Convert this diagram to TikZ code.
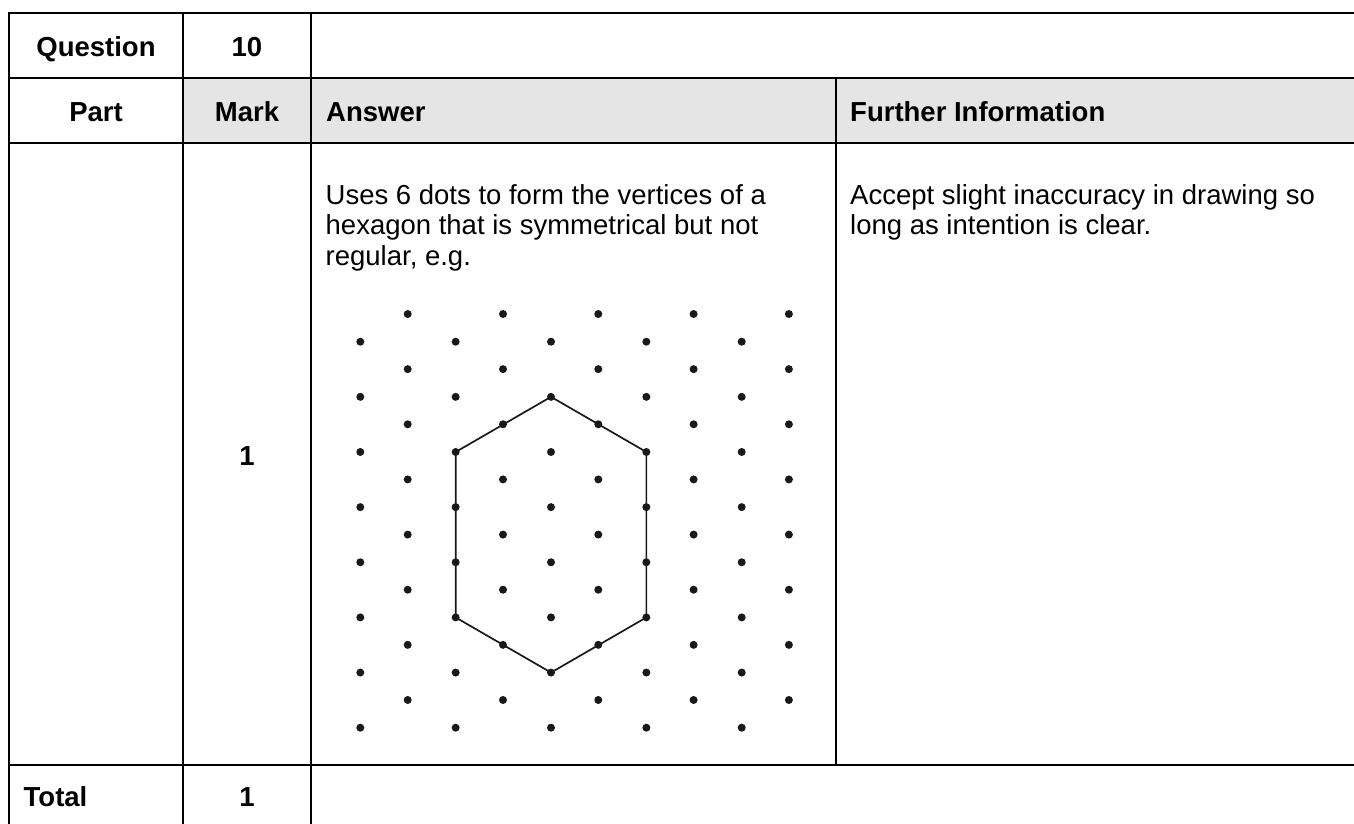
\documentclass[tikz,border=0pt]{standalone}
\usepackage{fontspec}
\setmainfont{Liberation Sans}
\begin{document}
\begin{tikzpicture}[x=1pt,y=-1pt,
  rule/.style={line width=2.2pt, black},
  head/.style={font=\fontsize{27.5}{31}\selectfont\bfseries, inner sep=0pt},
  body/.style={font=\fontsize{27.5}{31}\selectfont, inner sep=0pt},
  hexline/.style={line width=1.7pt, line join=round, black!90}]
\useasboundingbox (0,0) rectangle (1354,823);
\clip (0,0) rectangle (1354,823);
% header shading
\fill[black!10] (183,78) rectangle (1370,143);
% table rules
\draw[rule] (9,13) -- (1370,13);
\draw[rule] (9,78) -- (1370,78);
\draw[rule] (9,143) -- (1370,143);
\draw[rule] (9,765) -- (1370,765);
\draw[rule] (9,12) -- (9,840);
\draw[rule] (183,12) -- (183,840);
\draw[rule] (311,12) -- (311,840);
\draw[rule] (836,78) -- (836,765);
% texts
\node[head, anchor=base] (q) at (96,56) {Question};
\node[head, anchor=base] (qn) at (247,56) {10};
\node[head, anchor=base] (part) at (96,121.7) {Part};
\node[head, anchor=base] (mark) at (247,121.7) {Mark};
\node[head, anchor=base west] (ans) at (326,121.7) {Answer};
\node[head, anchor=base west] (fi) at (850,121.7) {Further Information};
\node[head, anchor=base] (m1) at (247,465) {1};
\node[head, anchor=base west] (tot) at (23.5,806.5) {Total};
\node[head, anchor=base] (tm) at (247,806.5) {1};
\node[body, anchor=base west] (a1) at (325.5,204) {Uses 6 dots to form the vertices of a};
\node[body, anchor=base west] (a2) at (325.5,234.5) {hexagon that is symmetrical but not};
\node[body, anchor=base west] (a3) at (325.5,265) {regular, e.g.};
\node[body, anchor=base west] (f1) at (850,204) {Accept slight inaccuracy in drawing so};
\node[body, anchor=base west] (f2) at (850,234.5) {long as intention is clear.};
% isometric dot grid
\foreach \k in {0,...,4}{
  \foreach \j in {0,...,7}{
    \coordinate (m-\k-\j) at ({360.3+95.35*\k},{341.7+55.14*\j});
    \coordinate (o-\k-\j) at ({407.7+95.3*\k},{314+55.14*\j});
  }
}
\draw[hexline] (m-2-1) -- (m-3-2) -- (m-3-5) -- (m-2-6) -- (m-1-5) -- (m-1-2) -- cycle;
\foreach \k in {0,...,4}{
  \foreach \j in {0,...,7}{
    \fill[black!90] (m-\k-\j) circle (4pt);
    \fill[black!90] (o-\k-\j) circle (4pt);
  }
}
\end{tikzpicture}
\end{document}
